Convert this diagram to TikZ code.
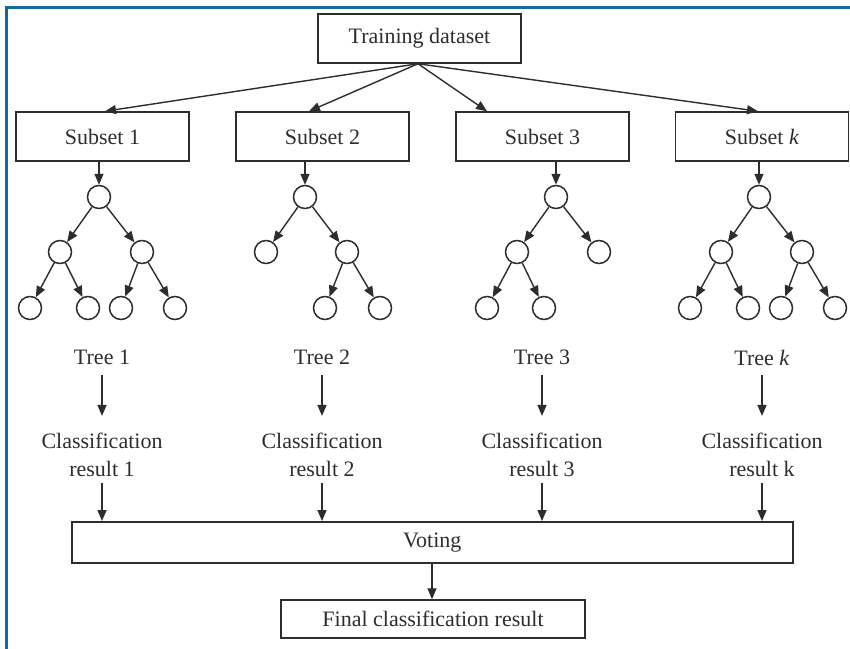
\documentclass[tikz,border=0pt]{standalone}
\usepackage{fontspec}
\setmainfont{Liberation Serif}
\usetikzlibrary{arrows.meta,calc}
\definecolor{frameblue}{RGB}{22,104,160}
\definecolor{ink}{RGB}{45,45,45}
\begin{document}
\begin{tikzpicture}[x=1pt,y=-1pt,
  font=\fontsize{22}{27.5}\selectfont,
  every node/.style={text=ink},
  box/.style={draw=ink,line width=1.5pt,inner sep=0pt,minimum height=49pt,minimum width=173pt},
  leaf/.style={draw=ink,circle,line width=1.5pt,inner sep=0pt,minimum size=23pt},
  lbl/.style={inner sep=0pt,align=center},
  arr/.style={draw=ink,line width=1.4pt,-{Triangle[length=11pt,width=9pt]}}
]
\useasboundingbox (0,0) rectangle (850,648);
\draw[frameblue,line width=3pt] (6.5,650) -- (6.5,7.5) -- (852,7.5);

% top
\node[box,minimum width=203pt] (train) at (419.5,38.5) {Training dataset};
\node[box] (s1) at (102.5,136.5) {Subset 1};
\node[box] (s2) at (322.5,136.5) {Subset 2};
\node[box] (s3) at (542.5,136.5) {Subset 3};
\node[box] (s4) at (762,136.5) {Subset \textit{k}};

\draw[arr] ($(train.south)+(-1.5,0)$) -- ($(s1.north)+(2.5,0)$);
\draw[arr] ($(train.south)+(-1.5,0)$) -- ($(s2.north)+(-13.5,0)$);
\draw[arr] ($(train.south)+(-1.5,0)$) -- ($(s3.north)+(-55.5,0)$);
\draw[arr] ($(train.south)+(-1.5,0)$) -- ($(s4.north)+(-4,0)$);

% tree 1
\node[leaf] (r1) at (99,197) {};
\node[leaf] (r1a) at (60,252) {};
\node[leaf] (r1b) at (142,252) {};
\node[leaf] (r1aa) at (30,308) {};
\node[leaf] (r1ab) at (88,308) {};
\node[leaf] (r1ba) at (121,308) {};
\node[leaf] (r1bb) at (175,308) {};
\draw[arr] (s1.south -| r1) -- (r1);
\draw[arr] (r1) -- (r1a);
\draw[arr] (r1) -- (r1b);
\draw[arr] (r1a) -- (r1aa);
\draw[arr] (r1a) -- (r1ab);
\draw[arr] (r1b) -- (r1ba);
\draw[arr] (r1b) -- (r1bb);

% tree 2
\node[leaf] (r2) at (305,197) {};
\node[leaf] (r2a) at (266,252) {};
\node[leaf] (r2b) at (347,252) {};
\node[leaf] (r2ba) at (325,308) {};
\node[leaf] (r2bb) at (380,308) {};
\draw[arr] (s2.south -| r2) -- (r2);
\draw[arr] (r2) -- (r2a);
\draw[arr] (r2) -- (r2b);
\draw[arr] (r2b) -- (r2ba);
\draw[arr] (r2b) -- (r2bb);

% tree 3
\node[leaf] (r3) at (556,197) {};
\node[leaf] (r3a) at (517,252) {};
\node[leaf] (r3b) at (599,252) {};
\node[leaf] (r3aa) at (487,308) {};
\node[leaf] (r3ab) at (544,308) {};
\draw[arr] (s3.south -| r3) -- (r3);
\draw[arr] (r3) -- (r3a);
\draw[arr] (r3) -- (r3b);
\draw[arr] (r3a) -- (r3aa);
\draw[arr] (r3a) -- (r3ab);

% tree k
\node[leaf] (r4) at (759,197) {};
\node[leaf] (r4a) at (721,252) {};
\node[leaf] (r4b) at (802,252) {};
\node[leaf] (r4aa) at (690,308) {};
\node[leaf] (r4ab) at (748,308) {};
\node[leaf] (r4ba) at (781,308) {};
\node[leaf] (r4bb) at (835,308) {};
\draw[arr] (s4.south -| r4) -- (r4);
\draw[arr] (r4) -- (r4a);
\draw[arr] (r4) -- (r4b);
\draw[arr] (r4a) -- (r4aa);
\draw[arr] (r4a) -- (r4ab);
\draw[arr] (r4b) -- (r4ba);
\draw[arr] (r4b) -- (r4bb);

% labels
\node[lbl] (t1) at (102,357.5) {Tree 1};
\node[lbl] (t2) at (322,357.5) {Tree 2};
\node[lbl] (t3) at (542,357.5) {Tree 3};
\node[lbl] (t4) at (762,357.5) {Tree \textit{k}};

\node[lbl] (c1) at (102,454.75) {Classification\\result 1};
\node[lbl] (c2) at (322,454.75) {Classification\\result 2};
\node[lbl] (c3) at (542,454.75) {Classification\\result 3};
\node[lbl] (c4) at (762,454.75) {Classification\\result k};

\foreach \i in {1,2,3,4}{
  \draw[arr,shorten <=10pt,shorten >=17pt] (t\i.south) -- (t\i.south |- c\i.north);
}

% voting
\node[box,minimum width=721pt,minimum height=41pt] (vote) at (432.3,542.3) {Voting};
\node[box,minimum width=304pt,minimum height=38pt] (final) at (433,619) {Final classification result};

\foreach \i in {1,2,3,4}{
  \draw[arr,shorten <=6pt] (c\i.south) -- (c\i.south |- vote.north);
}
\draw[arr] (vote.south -| final.north) ++(-1,0) -- ($(final.north)+(-1,0)$);
\end{tikzpicture}
\end{document}
